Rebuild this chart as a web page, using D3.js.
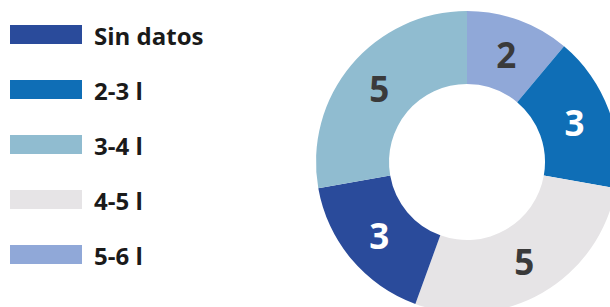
<!DOCTYPE html>
<html>
<head>
<meta charset="utf-8">
<script src="https://cdn.jsdelivr.net/npm/d3@7"></script>
<style>
  body { margin: 0; background: #fff; }
  svg { display: block; font-family: "Open Sans", "Noto Sans", sans-serif; }
</style>
</head>
<body>
<div id="chart"></div>
<script>
// Legend order and colours
const categories = ["Sin datos", "2-3 l", "3-4 l", "4-5 l", "5-6 l"];
const colors = ["#2a4b9b", "#0f6eb6", "#90bcd0", "#e6e4e6", "#90a8d8"];

// Slice order in the ring, clockwise from 12 o'clock
const sliceOrder = ["5-6 l", "2-3 l", "4-5 l", "Sin datos", "3-4 l"];
const sliceValues = [2, 3, 5, 3, 5];

const width = 610, height = 307;

const svg = d3.select("#chart").append("svg")
    .attr("width", width)
    .attr("height", height);

const color = d3.scaleOrdinal()
    .domain(categories)
    .range(colors);

// Legend
const legend = svg.append("g").attr("transform", "translate(10,25)");

categories.forEach((c, i) => {
    legend.append("rect")
        .attr("x", 0)
        .attr("y", i * 55)
        .attr("width", 72)
        .attr("height", 19)
        .attr("fill", color(c));

    legend.append("text")
        .attr("x", 84)
        .attr("y", i * 55 + 10)
        .attr("dominant-baseline", "central")
        .attr("font-size", 24)
        .attr("font-weight", 700)
        .attr("fill", "#1a1a1a")
        .text(c);
});

// Donut
const data = sliceOrder.map((k, i) => ({key: k, value: sliceValues[i]}));

const pie = d3.pie()
    .value(d => d.value)
    .sort(null);

const arc = d3.arc()
    .innerRadius(78)
    .outerRadius(151);

const g = svg.append("g")
    .attr("transform", "translate(467,162)");

const arcs = pie(data);

g.selectAll("path")
    .data(arcs)
    .enter()
    .append("path")
    .attr("d", arc)
    .attr("fill", d => color(d.data.key));

const darkSlices = ["Sin datos", "2-3 l"];

g.selectAll("text")
    .data(arcs)
    .enter()
    .append("text")
    .attr("transform", d => `translate(${arc.centroid(d)})`)
    .attr("text-anchor", "middle")
    .attr("dominant-baseline", "central")
    .attr("font-size", 35)
    .attr("font-weight", 700)
    .attr("fill", d => darkSlices.includes(d.data.key) ? "#ffffff" : "#3a3a3a")
    .text(d => d.data.value);
</script>
</body>
</html>
